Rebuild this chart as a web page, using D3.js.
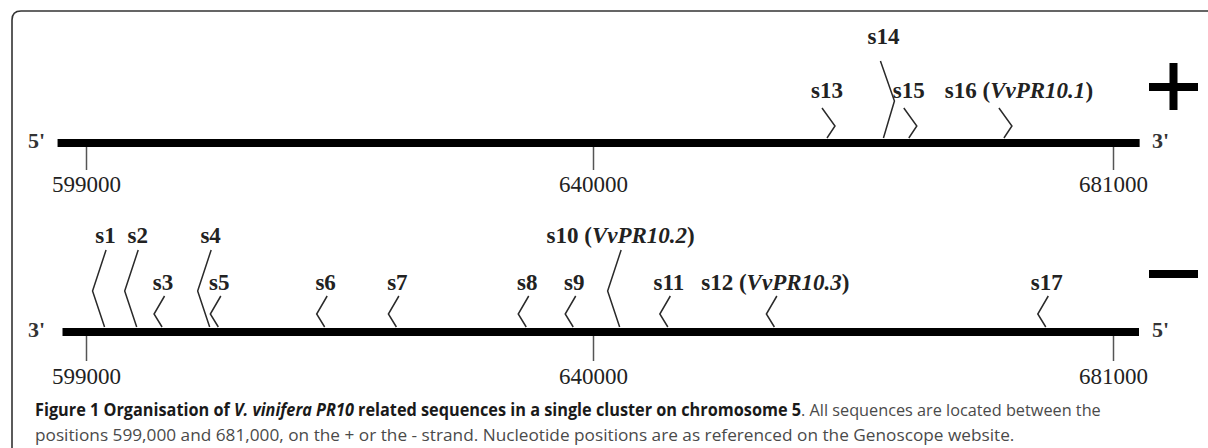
<!DOCTYPE html>
<html>
<head>
<meta charset="utf-8">
<script src="https://cdn.jsdelivr.net/npm/d3@7"></script>
<style>
  html, body { margin: 0; padding: 0; background: #fff; }
  svg { display: block; }
</style>
</head>
<body>
<svg id="chart" width="1208" height="448"></svg>
<script>
// ---------- data ----------
const tickValues = [599000, 640000, 681000];

// "+" strand (top)
const plusNames = ["s13", "s14", "s15", "s16"];
const plusPos   = [658450, 662900, 664900, 672400];
const plusLong  = [false, true, false, false];
const plusGene  = ["", "", "", "VvPR10.1"];

// "-" strand (bottom)
const minusNames = ["s1", "s2", "s3", "s4", "s5", "s6", "s7", "s8", "s9", "s10", "s11", "s12", "s17"];
const minusPos   = [600500, 603100, 605150, 609000, 609700, 618300, 624100, 634600, 638400, 642100, 645900, 654300, 675700];
const minusLong  = [true, true, false, true, false, false, false, false, false, true, false, false, false];
const minusGene  = ["", "", "", "", "", "", "", "", "", "VvPR10.2", "", "VvPR10.3", ""];

// extent of drawn chromosome segment (bp)
const strandStart = [596700, 597100];
const strandEnd   = [683100, 683050];
const strandEnds  = [["5'", "3'"], ["3'", "5'"]];

const captionLine1 = [
  {t: "Figure 1 Organisation of ", w: "bold", s: "normal"},
  {t: "V. vinifera PR10", w: "bold", s: "italic"},
  {t: " related sequences in a single cluster on chromosome 5", w: "bold", s: "normal"},
  {t: ". All sequences are located between the", w: "normal", s: "normal"}
];
const captionLine2 = [
  {t: "positions 599,000 and 681,000, on the + or the - strand. Nucleotide positions are as referenced on the Genoscope website.", w: "normal", s: "normal"}
];

// ---------- layout ----------
const labelNudge = {s16: 15};   // px shift of a label to avoid overlap, as in the figure

// ---------- drawing ----------
const svg = d3.select("#chart");
const serif = "Liberation Serif, Times New Roman, serif";

// frame
svg.append("path")
  .attr("d", "M12,470 V20 Q12,11 21,11 H1230")
  .attr("fill", "none").attr("stroke", "#333").attr("stroke-width", 1.6);

// scale (polylinear to follow the picture's tick spacing)
const x = d3.scaleLinear().domain(tickValues).range([86, 593, 1113]);

const strands = [
  {cy: 143, names: plusNames, pos: plusPos, long: plusLong, gene: plusGene, dir: 1,
   ends: strandEnds[0], start: strandStart[0], end: strandEnd[0], tickSize: 23, pad: 6},
  {cy: 332, names: minusNames, pos: minusPos, long: minusLong, gene: minusGene, dir: -1,
   ends: strandEnds[1], start: strandStart[1], end: strandEnd[1], tickSize: 25, pad: 7}
];

const barH = 8;

strands.forEach((st) => {
  const g = svg.append("g");
  const barTop = st.cy - barH / 2;

  const feats = st.names.map((n, i) => ({name: n, pos: st.pos[i], long: st.long[i], gene: st.gene[i]}));
  feats.forEach(f => {
    const bx = x(f.pos);
    const by = barTop - 1;
    let pts;
    if (st.dir === 1) {
      pts = f.long ? [[bx - 3, by - 77], [bx + 11, by - 37], [bx, by]]
                   : [[bx - 5, by - 30], [bx + 8, by - 12], [bx, by]];
    } else {
      pts = f.long ? [[bx + 1.5, by - 77], [bx - 12, by - 36], [bx, by]]
                   : [[bx + 2.5, by - 31], [bx - 8, by - 13], [bx, by]];
    }
    g.append("path")
      .attr("d", d3.line()(pts))
      .attr("fill", "none").attr("stroke", "#2a2a2a").attr("stroke-width", 1.5);

    let ly;
    if (st.dir === 1) ly = f.long ? by - 94 : by - 40;
    else ly = f.long ? by - 84 : by - 37;
    const t = g.append("text")
      .attr("x", (st.dir === 1 ? bx : bx + 1) + (labelNudge[f.name] || 0))
      .attr("y", ly)
      .attr("text-anchor", "middle")
      .style("font-family", serif).style("font-size", "23px").style("font-weight", "bold")
      .attr("fill", "#222");
    t.append("tspan").text(f.name);
    if (f.gene) {
      t.append("tspan").text(" (");
      t.append("tspan").style("font-style", "italic").text(f.gene);
      t.append("tspan").text(")");
    }
  });

  // bar
  g.append("rect")
    .attr("x", x(st.start)).attr("y", barTop)
    .attr("width", x(st.end) - x(st.start)).attr("height", barH)
    .attr("fill", "#000");

  // end labels
  [[28, st.ends[0]], [1152, st.ends[1]]].forEach(([ex, lbl]) => {
    g.append("text").attr("x", ex).attr("y", st.cy + 5)
      .style("font-family", serif).style("font-size", "22px").style("font-weight", "bold")
      .attr("fill", "#333").text(lbl);
  });

  // axis
  const axis = d3.axisBottom(x).tickValues(tickValues)
    .tickSize(st.tickSize).tickPadding(st.pad).tickFormat(d3.format("d"));
  const ag = svg.append("g").attr("transform", `translate(0,${barTop + barH})`).call(axis);
  ag.attr("font-family", null).attr("font-size", null);
  ag.select(".domain").remove();
  ag.selectAll(".tick line").attr("stroke", "#555").attr("stroke-width", 1.5);
  ag.selectAll(".tick text")
    .style("font-family", serif).style("font-size", "23px").attr("fill", "#222");
});

// strand symbols
svg.append("rect").attr("x", 1149).attr("y", 83).attr("width", 49).attr("height", 8).attr("fill", "#000");
svg.append("rect").attr("x", 1169.5).attr("y", 63).attr("width", 8).attr("height", 47).attr("fill", "#000");
svg.append("rect").attr("x", 1149).attr("y", 270).attr("width", 49).attr("height", 8).attr("fill", "#000");

// caption
function captionLine(parts, y, targetW) {
  const t = svg.append("text").attr("x", 0).attr("y", 0)
    .style("font-family", "Open Sans, Noto Sans, sans-serif").style("font-size", "17px");
  parts.forEach(p => {
    t.append("tspan").text(p.t)
      .style("font-weight", p.w).style("font-style", p.s)
      .attr("fill", p.w === "bold" ? "#1a1a1a" : "#4a4a4a");
  });
  const w = t.node().getComputedTextLength();
  t.attr("transform", `translate(35,${y}) scale(${targetW / w},1)`);
}
captionLine(captionLine1, 416, 1067);
captionLine(captionLine2, 441, 980);
</script>
</body>
</html>
